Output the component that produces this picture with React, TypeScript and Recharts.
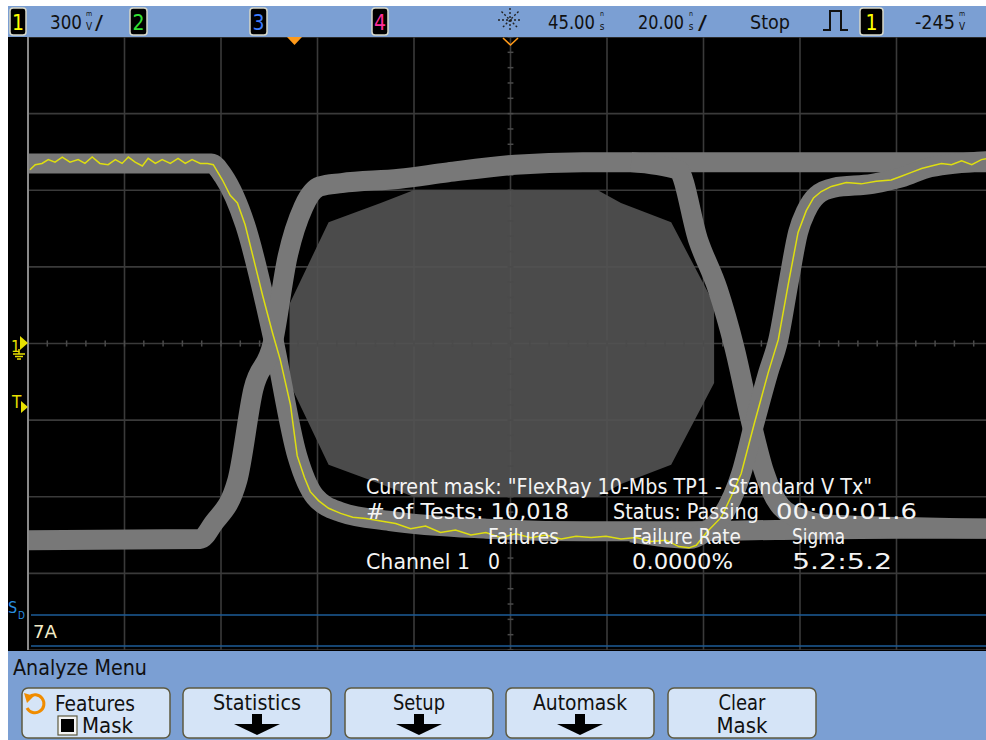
import { ComposedChart, Line, Area, XAxis, YAxis, CartesianGrid, ReferenceLine } from "recharts";

// scope setup: 20 ns/div, 300 mV/div, delay 45 ns, trigger -245 mV
const TIME_TICKS = [-55, -35, -15, 5, 25, 45, 65, 85, 105, 125, 145];
const VOLT_TICKS = [-1200, -900, -600, -300, 0, 300, 600, 900, 1200];

// channel 1 live trace (ns, mV)
const yellowTrace: [number, number][] = [
  [-54.6, 680], [-53.5, 700], [-52.1, 705], [-50.8, 720], [-49.4, 710], [-47.9, 730],
  [-46.3, 710], [-44.6, 720], [-43.2, 705], [-41.7, 730], [-40.1, 705], [-38.4, 700],
  [-36.9, 720], [-35.5, 705], [-34.2, 730], [-32.8, 710], [-31.3, 695], [-30.1, 725],
  [-28.6, 705], [-27.2, 720], [-25.5, 705], [-23.9, 725], [-22.4, 705], [-21.0, 720],
  [-19.3, 705], [-17.8, 705], [-16.6, 700], [-14.7, 640], [-13.1, 580], [-11.6, 550],
  [-10.0, 465], [-7.9, 305], [-6.4, 190], [-4.3, 40], [-2.7, -65], [-0.6, -240],
  [0.8, -440], [2.3, -525], [3.5, -580], [5.2, -615], [7.3, -645], [9.8, -665],
  [12.3, -680], [15.0, -685], [18.1, -695], [21.2, -705], [24.3, -725], [27.4, -715],
  [30.5, -740], [33.6, -730], [36.8, -750], [39.9, -740], [43.0, -760], [46.1, -745],
  [49.2, -760], [52.3, -750], [55.5, -765], [58.6, -755], [61.7, -760], [64.8, -755],
  [67.9, -765], [71.0, -760], [74.1, -775], [77.2, -770], [79.9, -795], [82.0, -800],
  [83.5, -790], [85.6, -740], [88.7, -680], [90.7, -600], [92.8, -510], [95.5, -315],
  [98.4, -115], [100.5, 15], [102.6, 235], [104.6, 435], [106.3, 520], [107.8, 570],
  [109.4, 595], [111.5, 615], [114.6, 630], [117.7, 625], [120.8, 635], [123.9, 640],
  [126.0, 655], [128.1, 670], [130.2, 685], [132.2, 695], [134.3, 705], [136.4, 700],
  [138.5, 715], [140.6, 700], [142.6, 720], [143.9, 725],
];

// persistence envelopes (centre of each grey band, ns / mV)
const bandFallLeft: [number, number][] = [
  [-55, 705], [-17, 705], [-14.5, 655], [-10, 465], [-4.3, 30], [0.8, -440], [4.5, -600],
  [9.8, -660], [20, -695], [40, -725], [60, -735], [80, -735], [100, -730], [125, -725], [145, -725],
];
const bandRiseLeft: [number, number][] = [
  [-55, -770], [-19.3, -765], [-16.6, -705], [-11.6, -535], [-8.3, -180], [-4.3, 0], [-1.2, 340],
  [2.1, 535], [5.5, 615], [10, 628], [22, 645], [32, 670], [46, 700], [60, 710], [145, 710],
];
const bandFallRight: [number, number][] = [
  [70, 710], [79.7, 680], [83.9, 405], [88, 210], [91.4, -15], [94.9, -310], [97.6, -505],
  [101.1, -640], [105.9, -690], [111.5, -710], [145, -725],
];
const bandRiseRight: [number, number][] = [
  [70, -740], [82, -765], [85.6, -735], [88.7, -680], [92.8, -510], [95.5, -315], [98.4, -115],
  [100.5, 15], [102.6, 235], [104.6, 435], [106.3, 520], [108.5, 580], [112, 610], [120, 625],
  [126, 650], [132, 690], [145, 715],
];

// FlexRay TP1 mask polygon: time and half height (mV)
const maskTime = [-0.8, 7.3, 18.1, 24.9, 63.1, 67.9, 78.3, 87.2];
const maskHalf = [155, 475, 550, 600, 600, 550, 475, 155];

const toPts = (pairs: [number, number][]) => pairs.map(([t, v]) => ({ t, v }));
const maskData = maskTime.map((t, i) => ({ t, range: [-maskHalf[i], maskHalf[i]] }));
const bands = [bandFallLeft, bandRiseLeft, bandFallRight, bandRiseRight];

const hTicks = Array.from({ length: 51 }, (_, i) => -55 + i * 4);
const vTicks = Array.from({ length: 41 }, (_, i) => -1200 + i * 60);

const FONT = "'DejaVu Sans Condensed', 'DejaVu Sans', sans-serif";
const BAR = "#7b9fd3";

function Txt({ x, y, w, size = 21, fill = "#111", anchor = "start", children }: any) {
  return (
    <text x={x} y={y} fontSize={size} fill={fill} textAnchor={anchor} fontFamily={FONT}
      textLength={w} lengthAdjust="spacingAndGlyphs">
      {children}
    </text>
  );
}

function ChBox({ x, w, label, color }: any) {
  return (
    <g>
      <rect x={x} y={8} width={w} height={27} rx={3} fill="#000" stroke="#d8d8c8" strokeWidth={1.5} />
      <text x={x + w / 2} y={30} fontSize={21} fill={color} textAnchor="middle" fontFamily={FONT}>{label}</text>
    </g>
  );
}

// small stacked unit glyph (e.g. m over V) kept as one text element
function Unit({ x, top, bottom }: any) {
  return (
    <text fontFamily={FONT} fill="#111" textAnchor="middle">
      <tspan x={x} y={16} fontSize={7}>{top}</tspan>
      <tspan x={x} y={30} fontSize={10}>{bottom}</tspan>
    </text>
  );
}

function Button({ x, children }: any) {
  return (
    <g>
      <rect x={x} y={688} width={148} height={50} rx={6} fill="#d5e4f7" stroke="#5e5a40" strokeWidth={1.5} />
      {children}
    </g>
  );
}

function DownArrow({ cx }: any) {
  return (
    <g fill="#000">
      <rect x={cx - 5} y={714} width={10} height={11} />
      <polygon points={`${cx - 23},724 ${cx + 23},724 ${cx},735`} />
    </g>
  );
}

export default function App() {
  return (
    <div style={{ position: "fixed", left: 0, top: 0, width: 986, height: 740, background: "#fff", overflow: "hidden" }}>
      <div style={{ position: "absolute", left: 8, top: 37, width: 978, height: 614, background: "#000", overflow: "hidden" }}>
        <ComposedChart width={985} height={613} margin={{ top: 0, right: 0, bottom: 0, left: 20 }}>
          <CartesianGrid stroke="#3a3a3a" strokeWidth={1.6} />
          <XAxis type="number" dataKey="t" domain={[-55, 145]} ticks={TIME_TICKS} hide allowDataOverflow />
          <YAxis type="number" domain={[-1200, 1200]} ticks={VOLT_TICKS} hide allowDataOverflow />
          {hTicks.map((t) => (
            <ReferenceLine key={`h${t}`} segment={[{ x: t, y: -12 }, { x: t, y: 12 }]} stroke="#4a4a4a" strokeWidth={1.5} />
          ))}
          {vTicks.map((v) => (
            <ReferenceLine key={`v${v}`} segment={[{ x: 44.4, y: v }, { x: 45.6, y: v }]} stroke="#4a4a4a" strokeWidth={1.5} />
          ))}
          <Area data={maskData} dataKey="range" type="linear" fill="#535353" fillOpacity={0.9} stroke="none" isAnimationActive={false} />
          {bands.map((b, i) => (
            <Line key={i} data={toPts(b)} dataKey="v" type="monotone" stroke="#787878" strokeWidth={20}
              strokeLinejoin="round" dot={false} activeDot={false} isAnimationActive={false} />
          ))}
          <Line data={toPts(yellowTrace)} dataKey="v" type="linear" stroke="#dede10" strokeWidth={1.5}
            dot={false} activeDot={false} isAnimationActive={false} />
          <ReferenceLine x={-55} stroke="#8a8a8a" strokeWidth={2} />
        </ComposedChart>
      </div>

      <svg width={986} height={740} style={{ position: "absolute", left: 0, top: 0, pointerEvents: "none" }}>
        {/* status bar */}
        <rect x={8} y={6} width={978} height={31} fill={BAR} />
        <ChBox x={10} w={16} label="1" color="#ffff00" />
        <Txt x={50} y={29} w={32} size={19}>300</Txt>
        <Unit x={89} top="m" bottom="V" />
        <Txt x={95} y={29} w={8} size={19}>/</Txt>
        <ChBox x={130} w={17} label="2" color="#33e033" />
        <ChBox x={250} w={17} label="3" color="#3d7dff" />
        <ChBox x={372} w={16} label="4" color="#ff2d9b" />
        <polygon points="287,37 302,37 294.5,45" fill="#ff9a1a" />
        <g stroke="#222" strokeWidth={1.4} strokeDasharray="2 2">
          <line x1={510} y1={8} x2={510} y2={32} />
          <line x1={498} y1={20} x2={522} y2={20} />
          <line x1={501.5} y1={11.5} x2={518.5} y2={28.5} />
          <line x1={518.5} y1={11.5} x2={501.5} y2={28.5} />
        </g>
        <polyline points="503,38 510.5,45 518,38" fill="none" stroke="#ff9a1a" strokeWidth={1.6} />
        <Txt x={548} y={29} w={47} size={19}>45.00</Txt>
        <Unit x={602} top="n" bottom="s" />
        <Txt x={638} y={29} w={46} size={19}>20.00</Txt>
        <Unit x={691} top="n" bottom="s" />
        <Txt x={698} y={29} w={9} size={19}>/</Txt>
        <Txt x={750} y={29} w={40} size={20}>Stop</Txt>
        <polyline points="823,30 830,30 830,11 841,11 841,30 848,30" fill="none" stroke="#111" strokeWidth={2} />
        <ChBox x={860} w={23} label="1" color="#ffff00" />
        <Txt x={915} y={29} w={40} size={19}>-245</Txt>
        <Unit x={962} top="m" bottom="V" />

        {/* channel and trigger markers */}
        <g fill="#e8e000">
          <text x={11} y={352} fontSize={16} fontFamily={FONT}>1</text>
          <polygon points="20,336 28,343 20,350" />
          <text x={12} y={408} fontSize={17} fontFamily={FONT}>T</text>
          <polygon points="21,401 28,407 21,413" />
        </g>
        <g stroke="#e8e000" strokeWidth={1.5}>
          <line x1={19} y1={349} x2={19} y2={354} />
          <line x1={13} y1={354} x2={25} y2={354} />
          <line x1={15} y1={356.5} x2={23} y2={356.5} />
          <line x1={17} y1={359} x2={21} y2={359} />
        </g>

        {/* digital channel strip */}
        <text fontFamily={FONT} fill="#2a8fe0">
          <tspan x={8} y={613} fontSize={16}>S</tspan>
          <tspan x={18} y={619} fontSize={10}>D</tspan>
        </text>
        <line x1={31} y1={615} x2={986} y2={615} stroke="#1d5c98" strokeWidth={1.5} />
        <line x1={31} y1={646} x2={986} y2={646} stroke="#1d5c98" strokeWidth={1.5} />
        <Txt x={33} y={638} w={24} size={17} fill="#f3ecc8">7A</Txt>

        {/* mask test results */}
        <g>
          <Txt x={366} y={494} w={506} fill="#f4f4f4">Current mask: "FlexRay 10-Mbs TP1 - Standard V Tx"</Txt>
          <Txt x={366} y={519} w={203} fill="#f4f4f4"># of Tests: 10,018</Txt>
          <Txt x={613} y={519} w={146} fill="#f4f4f4">Status: Passing</Txt>
          <Txt x={776} y={519} w={141} fill="#f4f4f4">00:00:01.6</Txt>
          <Txt x={488} y={544} w={71} fill="#f4f4f4">Failures</Txt>
          <Txt x={632} y={544} w={109} fill="#f4f4f4">Failure Rate</Txt>
          <Txt x={792} y={544} w={53} fill="#f4f4f4">Sigma</Txt>
          <Txt x={366} y={569} w={104} fill="#f4f4f4">Channel 1</Txt>
          <Txt x={488} y={569} w={12} fill="#f4f4f4">0</Txt>
          <Txt x={632} y={569} w={101} fill="#f4f4f4">0.0000%</Txt>
          <Txt x={792} y={569} w={100} fill="#f4f4f4">5.2:5.2</Txt>
        </g>

        {/* softkey menu */}
        <rect x={8} y={651} width={978} height={89} fill={BAR} />
        <Txt x={13} y={675} w={134}>Analyze Menu</Txt>
        <Button x={22}>
          <path d="M 29 697 A 9 9 0 1 1 27 708" fill="none" stroke="#f08c00" strokeWidth={3} />
          <polygon points="24,693 34,696 27,703" fill="#f08c00" />
          <Txt x={55} y={711} w={80}>Features</Txt>
          <rect x={58} y={716} width={19} height={19} fill="#f4f4f4" stroke="#5e5a40" strokeWidth={1.2} />
          <rect x={61} y={719} width={13} height={13} fill="#000" />
          <Txt x={82} y={733} w={51}>Mask</Txt>
        </Button>
        <Button x={183}>
          <Txt x={257} y={710} w={88} anchor="middle">Statistics</Txt>
          <DownArrow cx={257} />
        </Button>
        <Button x={345}>
          <Txt x={419} y={710} w={52} anchor="middle">Setup</Txt>
          <DownArrow cx={419} />
        </Button>
        <Button x={506}>
          <Txt x={580} y={710} w={94} anchor="middle">Automask</Txt>
          <DownArrow cx={580} />
        </Button>
        <Button x={668}>
          <Txt x={742} y={710} w={47} anchor="middle">Clear</Txt>
          <Txt x={742} y={733} w={51} anchor="middle">Mask</Txt>
        </Button>
      </svg>
    </div>
  );
}
